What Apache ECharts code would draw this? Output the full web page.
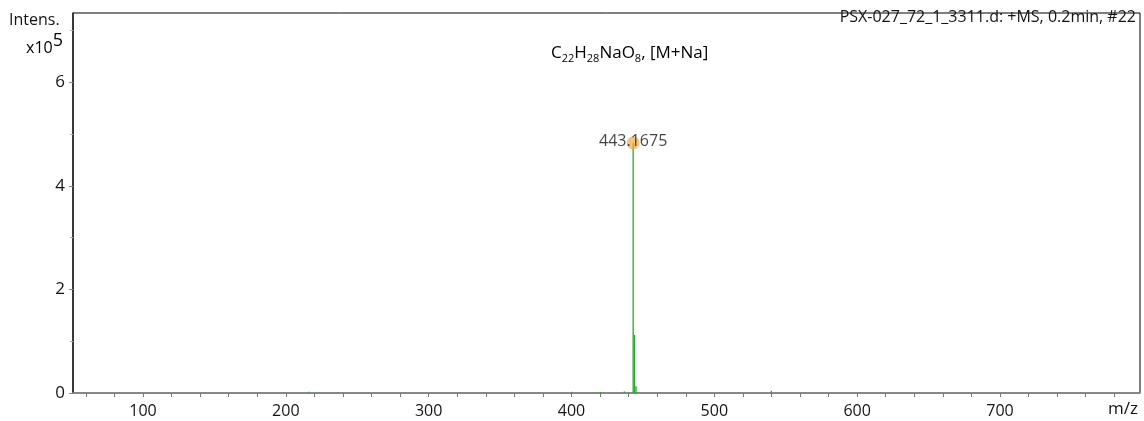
<!DOCTYPE html>
<html>
<head>
<meta charset="utf-8">
<script src="https://cdn.jsdelivr.net/npm/echarts@6/dist/echarts.min.js"></script>
<style>
  html, body { margin: 0; padding: 0; background: #fff; }
  #chart { width: 1144px; height: 421px; }
</style>
</head>
<body>
<div id="chart"></div>
<script>
// Mass spectrum peaks: m/z positions and intensities
const peakMz = [216.1, 400.2, 420.3, 437.0, 443.1675, 444.17, 445.17, 539.9];
const peakIntensity = [2500, 2500, 2000, 3000, 483000, 112000, 13000, 4500];

// Annotated peak
const labelMz = 443.1675;
const labelIntensity = 483000;
const labelText = '443.1675';

// Axis ticks
const xTickLabels = [100, 200, 300, 400, 500, 600, 700];
const xTicks = [60, 80, 100, 120, 140, 160, 180, 200, 220, 240, 260, 280, 300, 320, 340, 360, 380, 400, 420, 440, 460, 480, 500, 520, 540, 560, 580, 600, 620, 640, 660, 680, 700, 720, 740, 760, 780];
const yTickLabels = [0, 2, 4, 6];

const FONT = '"Open Sans", Lato, sans-serif';
const TEXT = '#141414';

const sticks = peakMz.map((m, i) => [m, peakIntensity[i]]);

const chart = echarts.init(document.getElementById('chart'), null, { renderer: 'canvas' });

chart.setOption({
  animation: false,
  backgroundColor: '#fff',
  grid: {
    left: 73, right: 4, top: 13, bottom: 28,
    show: true, borderColor: '#000', borderWidth: 1, backgroundColor: 'transparent'
  },
  xAxis: {
    type: 'value',
    min: 51, max: 798,
    splitLine: { show: false },
    axisLine: { lineStyle: { color: '#8a8a8a', width: 1.5 } },
    axisTick: { show: true, length: 4, lineStyle: { color: '#777' }, customValues: xTicks },
    axisLabel: { customValues: xTickLabels, fontFamily: FONT, fontSize: 16, color: TEXT, margin: 10 }
  },
  yAxis: {
    type: 'value',
    min: 0, max: 734000, interval: 200000,
    splitLine: { show: false },
    axisLine: { show: true, lineStyle: { color: '#222', width: 1.5 } },
    axisTick: { show: true, length: 4, lineStyle: { color: '#888' },
      customValues: yTickLabels.map(v => v * 1e5) },
    minorTick: { show: true, splitNumber: 2, length: 3, lineStyle: { color: '#aaa' } },
    axisLabel: {
      customValues: yTickLabels.map(v => v * 1e5),
      formatter: v => String(Math.round(v / 1e5)),
      fontFamily: FONT, fontSize: 17, color: TEXT, margin: 8
    }
  },
  series: [
    {
      type: 'custom',
      data: sticks,
      renderItem: function (params, api) {
        const top = api.coord([api.value(0), api.value(1)]);
        const base = api.coord([api.value(0), 0]);
        return {
          type: 'line',
          shape: { x1: top[0], y1: top[1], x2: base[0], y2: base[1] },
          style: { stroke: '#2fa32f', lineWidth: 1.3 }
        };
      },
      z: 3
    },
    {
      type: 'scatter',
      data: [[labelMz, labelIntensity]],
      symbol: 'circle',
      symbolSize: 13,
      itemStyle: { color: 'rgba(245,166,60,0.85)' },
      label: {
        show: true, position: 'top', distance: -13,
        formatter: labelText,
        fontFamily: FONT, fontSize: 16, color: TEXT
      },
      z: 4
    }
  ],
  graphic: [
    {
      type: 'text', left: 9, top: 12,
      style: { text: 'Intens.', font: '16px ' + FONT, fill: TEXT }
    },
    {
      type: 'text', left: 26, top: 32,
      style: {
        text: '{a|x10}{b|5}',
        rich: {
          a: { fontFamily: FONT, fontSize: 16, color: TEXT, verticalAlign: 'bottom' },
          b: { fontFamily: FONT, fontSize: 18, color: TEXT, verticalAlign: 'top', padding: [0, 0, 6, 0] }
        }
      }
    },
    {
      type: 'text', right: 8, top: 9,
      style: { text: 'PSX-027_72_1_3311.d: +MS, 0.2min, #22', font: '16px ' + FONT, fill: TEXT }
    },
    {
      type: 'text', left: 551, top: 45,
      style: {
        text: '{n|C}{s|22}{n|H}{s|28}{n|NaO}{s|8}{n|, [M+Na]}',
        rich: {
          n: { fontFamily: FONT, fontSize: 17, color: TEXT, verticalAlign: 'bottom' },
          s: { fontFamily: FONT, fontSize: 11, color: TEXT, verticalAlign: 'bottom', padding: [0, 0, -2, 0] }
        }
      }
    },
    {
      type: 'text', right: 6, top: 401,
      style: { text: 'm/z', font: '17px ' + FONT, fill: TEXT }
    }
  ]
});
</script>
</body>
</html>
